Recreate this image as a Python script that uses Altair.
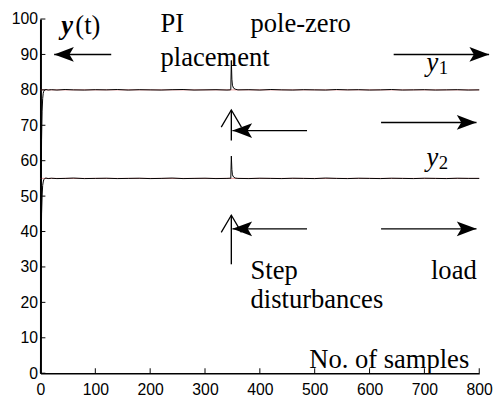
import altair as alt
import pandas as pd

# ---------------- data ----------------
samples = [0, 1, 2, 3, 4, 5, 6, 8, 10, 14,
           20, 30, 45, 60, 80, 100, 120, 140, 160, 180,
           200, 220, 240, 260, 280, 300, 320, 340, 346, 347,
           348, 349, 350, 352, 355, 360, 380, 400, 420, 440,
           460, 480, 500, 520, 540, 560, 580, 600, 620, 640,
           660, 680, 700, 720, 740, 760, 780, 800]
y1_vals = [0, 45, 66, 74, 77.5, 79, 79.6, 80, 80.1, 79.95,
           80.05, 79.95, 80.1, 80.0, 79.95, 80.05, 80.0, 80.1, 79.95, 80.05,
           80.0, 79.95, 80.05, 80.1, 79.95, 80.0, 80.05, 79.95, 80.0, 80.05,
           88.3, 83.0, 81.3, 80.5, 80.2, 80.0, 80.05, 79.95, 80.1, 80.0,
           79.95, 80.05, 80.0, 79.95, 80.1, 80.0, 80.05, 79.95, 80.0, 80.1,
           79.95, 80.0, 80.05, 79.95, 80.0, 80.05, 79.95, 80.0]
y2_vals = [0, 30, 45, 50, 53, 54, 54.6, 55, 55.1, 54.95,
           55.05, 54.95, 55.0, 55.1, 54.95, 55.0, 55.05, 54.95, 55.0, 55.05,
           54.95, 55.0, 55.1, 54.95, 55.0, 55.05, 54.95, 55.0, 55.05, 55.0,
           61.3, 57.5, 56.0, 55.4, 55.1, 55.0, 54.95, 55.05, 55.0, 54.95,
           55.05, 55.0, 54.95, 55.1, 55.0, 54.95, 55.05, 55.0, 54.95, 55.05,
           55.0, 54.95, 55.05, 55.0, 54.95, 55.05, 55.0, 55.0]
setpoints = [80, 55]

x_ticks = [0, 100, 200, 300, 400, 500, 600, 700, 800]
y_ticks = [0, 10, 20, 30, 40, 50, 60, 70, 80, 90, 100]

# horizontal arrows (tail x, tip x, y, direction angle)
arrow_tail = [129, 644, 486, 621, 486, 621]
arrow_tip = [25, 818, 350, 795, 350, 795]
arrow_y = [90, 90, 68.5, 70.8, 40.75, 40.75]
arrow_angle = [180, 0, 180, 0, 180, 0]

# vertical (open-head) arrows
up_x = [348, 348]
up_from = [65.7, 30.75]
up_to = [74.3, 44.6]

# annotation texts
txt_label = ["(t)", "PI", "placement", "pole-zero", "Step", "load",
             "disturbances", "No. of samples"]
txt_x = [63.5, 219, 219, 383, 383, 712, 383, 490]
txt_y = [95.75, 96.2, 86.8, 96.2, 26.6, 26.6, 18.4, 1.6]

ital_label = ["y", "y"]
ital_x = [704, 704]
ital_y = [85.4, 58.5]
sub_label = ["1", "2"]
sub_x = [726, 726]
sub_y = [84.4, 57.6]

bold_label = ["y"]
bold_x = [37.7]
bold_y = [95.75]

# ---------------- chart ----------------
xs = alt.Scale(domain=[0, 800], nice=False, zero=False)
ys = alt.Scale(domain=[0, 100], nice=False, zero=False)

W, H = 446, 360

lines_df = pd.DataFrame({
    "k": samples * 2,
    "v": y1_vals + y2_vals,
    "s": ["y1"] * len(samples) + ["y2"] * len(samples),
})

x_axis = alt.Axis(values=x_ticks, ticks=False, grid=False, title=None,
                  labelFont="Liberation Sans", labelFontSize=16,
                  labelColor="black", domainColor="black", domainWidth=1.5,
                  labelPadding=9, labelFlush=False)
y_axis = alt.Axis(values=y_ticks, ticks=False, grid=False, title=None,
                  labelFont="Liberation Sans", labelFontSize=16,
                  labelColor="black", domainColor="black", domainWidth=2,
                  labelPadding=3, labelFlush=False)


def X(f):
    return alt.X(f, scale=xs, axis=x_axis)


def Y(f):
    return alt.Y(f, scale=ys, axis=y_axis)


sp = alt.Chart(pd.DataFrame({"sp": setpoints, "a": [0, 0], "b": [800, 800]})).mark_rule(
    color="#e06060", strokeWidth=0.8, opacity=0.8
).encode(x=X("a:Q"), x2="b:Q", y=Y("sp:Q"))

lines = alt.Chart(lines_df).mark_line(color="black", strokeWidth=1).encode(
    x=X("k:Q"), y=Y("v:Q"), detail="s:N",
)

xt = alt.Chart(pd.DataFrame({"t": x_ticks})).mark_rule(color="black", strokeWidth=1).encode(
    x=X("t:Q"), y=alt.value(H), y2=alt.value(H - 5),
)
yt = alt.Chart(pd.DataFrame({"t": y_ticks})).mark_rule(color="black", strokeWidth=1).encode(
    y=Y("t:Q"), x=alt.value(0), x2=alt.value(5),
)

arr_df = pd.DataFrame({"t0": arrow_tail, "t1": arrow_tip, "y": arrow_y, "ang": arrow_angle})
shafts = alt.Chart(arr_df).mark_rule(color="black", strokeWidth=1.4).encode(
    x=X("t0:Q"), x2="t1:Q", y=Y("y:Q"),
)
heads = alt.Chart(arr_df).mark_point(
    shape="M0,0 L-2,-0.75 L-1.55,0 L-2,0.75 Z", filled=True, color="black",
    size=400, opacity=1, strokeWidth=0.5
).encode(
    x=X("t1:Q"), y=Y("y:Q"), angle=alt.Angle("ang:Q", scale=None),
)

up_df = pd.DataFrame({"x": up_x, "a": up_from, "b": up_to})
up_shafts = alt.Chart(up_df).mark_rule(color="black", strokeWidth=1.4).encode(
    x=X("x:Q"), y=Y("a:Q"), y2="b:Q",
)
up_heads = alt.Chart(up_df).mark_point(
    shape="M-1,1.7 L0,0 L1,1.7", filled=False, color="black",
    size=420, opacity=1, strokeWidth=1.3
).encode(x=X("x:Q"), y=Y("b:Q"))

serif = "Liberation Serif"
texts = alt.Chart(pd.DataFrame({"l": txt_label, "x": txt_x, "y": txt_y})).mark_text(
    align="left", baseline="alphabetic", font=serif, fontSize=27, color="black"
).encode(x=X("x:Q"), y=Y("y:Q"), text="l:N")
ital = alt.Chart(pd.DataFrame({"l": ital_label, "x": ital_x, "y": ital_y})).mark_text(
    align="left", baseline="alphabetic", font=serif, fontSize=27,
    fontStyle="italic", color="black"
).encode(x=X("x:Q"), y=Y("y:Q"), text="l:N")
subs = alt.Chart(pd.DataFrame({"l": sub_label, "x": sub_x, "y": sub_y})).mark_text(
    align="left", baseline="alphabetic", font=serif, fontSize=19, color="black"
).encode(x=X("x:Q"), y=Y("y:Q"), text="l:N")
bold = alt.Chart(pd.DataFrame({"l": bold_label, "x": bold_x, "y": bold_y})).mark_text(
    align="left", baseline="alphabetic", font=serif, fontSize=27,
    fontStyle="italic", fontWeight="bold", color="black"
).encode(x=X("x:Q"), y=Y("y:Q"), text="l:N")

chart = alt.layer(
    sp, lines, xt, yt, shafts, heads, up_shafts, up_heads, texts, ital, subs, bold
).properties(
    width=W, height=H,
    autosize=alt.AutoSizeParams(type="none"),
    padding={"left": 33, "top": 8, "right": 15, "bottom": 22},
    background="white",
).configure_view(stroke=None)

chart.save("out.html", embed_options={"renderer": "svg", "actions": False})
